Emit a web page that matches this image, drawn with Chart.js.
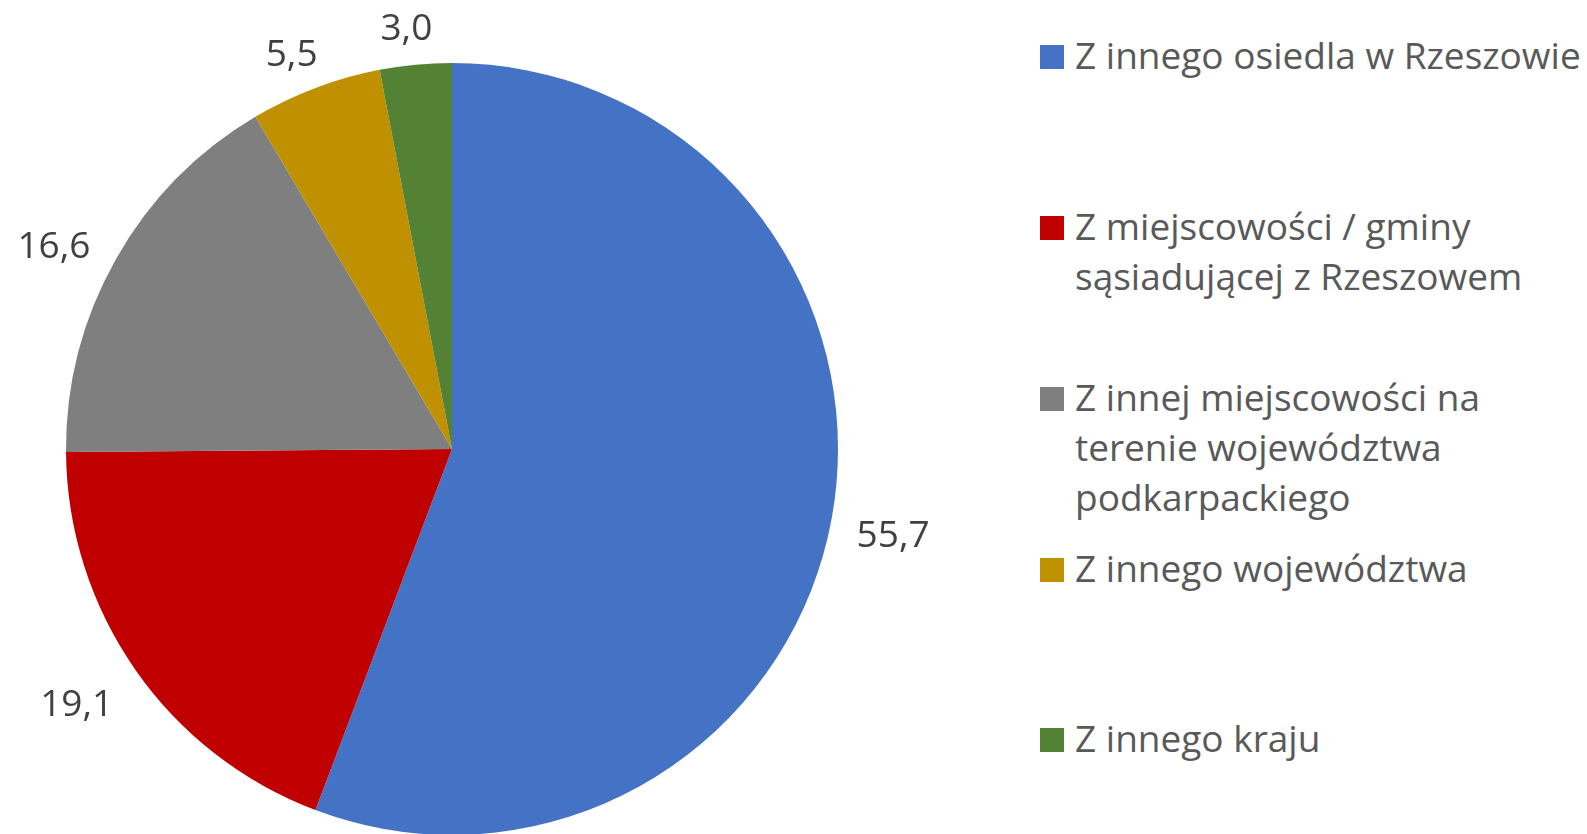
<!DOCTYPE html>
<html lang="pl">
<head>
<meta charset="utf-8">
<title>Skąd się przeprowadzili</title>
<script src="https://cdn.jsdelivr.net/npm/chart.js@4.4.1/dist/chart.umd.min.js"></script>
<style>
  html, body { margin: 0; padding: 0; background: #fff; overflow: hidden; }
  body { width: 1587px; height: 834px; position: relative; font-family: "Open Sans", sans-serif; }
  .pie-wrap { position: absolute; left: 0; top: 0; width: 1000px; height: 900px; }
  .legend { position: absolute; left: 1040px; top: 0; width: 547px; height: 834px; }
  .legend__item { position: absolute; left: 0; display: flex; align-items: flex-start; }
  .legend__box { width: 24px; height: 24px; margin-top: 15px; flex: none; }
  .legend__text { margin-left: 11px; font-size: 37px; line-height: 50px; color: #595959; white-space: nowrap; }
</style>
</head>
<body>
<div class="pie-wrap"><canvas id="pie"></canvas></div>
<div class="legend" id="legend"></div>
<script>
const labels = [
  'Z innego osiedla w Rzeszowie',
  'Z miejscowości / gminy\nsąsiadującej z Rzeszowem',
  'Z innej miejscowości na\nterenie województwa\npodkarpackiego',
  'Z innego województwa',
  'Z innego kraju'
];
const values = [55.7, 19.1, 16.6, 5.5, 3.0];
const colors = ['#4472C4', '#C00000', '#7F7F7F', '#BF9000', '#548235'];

// legend rows (top of each entry, px) - Excel spreads them unevenly
const legendTops = [30, 201, 372, 543, 713];

const fmt = (v) => v.toFixed(1).replace('.', ',');

const legend = document.getElementById('legend');
labels.forEach((label, i) => {
  const item = document.createElement('div');
  item.className = 'legend__item';
  item.style.top = legendTops[i] + 'px';
  const box = document.createElement('span');
  box.className = 'legend__box';
  box.style.background = colors[i];
  const text = document.createElement('span');
  text.className = 'legend__text';
  text.innerHTML = label.split('\n').join('<br>');
  item.appendChild(box);
  item.appendChild(text);
  legend.appendChild(item);
});

// value labels outside the slices
const outsideLabels = {
  id: 'outsideLabels',
  afterDatasetsDraw(chart) {
    const { ctx } = chart;
    const meta = chart.getDatasetMeta(0);
    ctx.save();
    ctx.font = '37px "Open Sans", sans-serif';
    ctx.fillStyle = '#404040';
    ctx.textAlign = 'center';
    ctx.textBaseline = 'middle';
    meta.data.forEach((arc, i) => {
      const { x, y, startAngle, endAngle, outerRadius } = arc.getProps(['x', 'y', 'startAngle', 'endAngle', 'outerRadius'], true);
      const mid = (startAngle + endAngle) / 2;
      const dx = Math.cos(mid);
      const dy = Math.sin(mid);
      const text = fmt(values[i]);
      const w = ctx.measureText(text).width;
      const h = 30;
      const r = outerRadius + 30;
      const tx = x + dx * r + dx * w / 2 - 4;
      const ty = y + dy * r + dy * h / 2 + 10;
      ctx.fillText(text, tx, ty);
    });
    ctx.restore();
  }
};

new Chart(document.getElementById('pie'), {
  type: 'pie',
  data: {
    labels,
    datasets: [{
      data: values,
      backgroundColor: colors,
      borderWidth: 0,
      hoverOffset: 0
    }]
  },
  options: {
    responsive: true,
    maintainAspectRatio: false,
    animation: false,
    layout: { padding: { left: 66, top: 63, right: 162, bottom: 65 } },
    plugins: {
      legend: { display: false },
      tooltip: { enabled: false }
    }
  },
  plugins: [outsideLabels]
});
</script>
</body>
</html>
